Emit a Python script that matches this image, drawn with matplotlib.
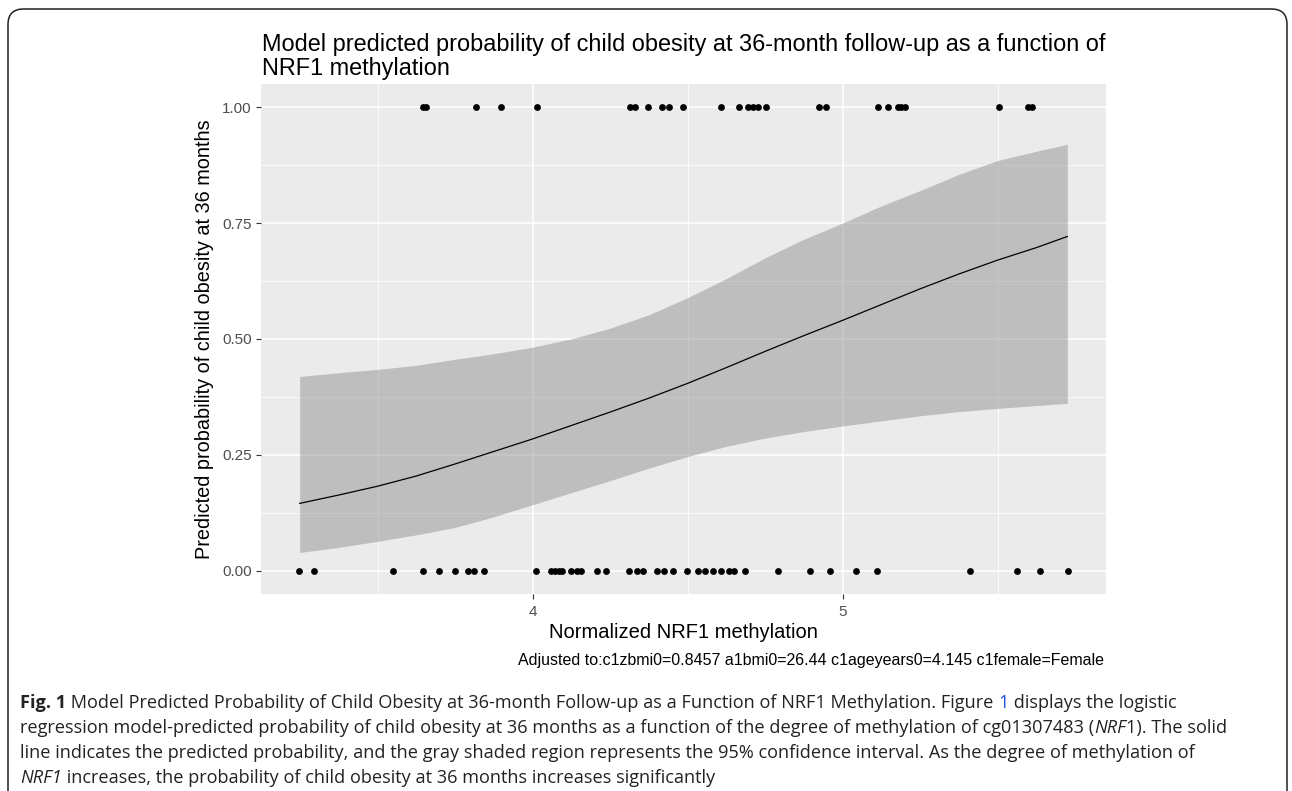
import matplotlib
matplotlib.use("Agg")
import matplotlib.pyplot as plt
from matplotlib.patches import FancyBboxPatch
from matplotlib.ticker import FixedLocator

# ----------------------------------
# data
# ----------------------------------
# observed children: not obese (0) / obese (1)
meth_obese0 = [3.248, 3.296, 3.549, 3.647, 3.698, 3.749, 3.792, 3.810, 3.845,
               4.012, 4.060, 4.073, 4.084, 4.095, 4.125, 4.143, 4.156, 4.209,
               4.238, 4.312, 4.337, 4.355, 4.403, 4.423, 4.452, 4.498, 4.533,
               4.555, 4.582, 4.608, 4.635, 4.649, 4.686, 4.792, 4.896, 4.961,
               5.045, 5.112, 5.411, 5.563, 5.638, 5.726]
meth_obese1 = [3.647, 3.657, 3.818, 3.898, 4.016, 4.313, 4.329, 4.372, 4.418,
               4.439, 4.484, 4.609, 4.667, 4.694, 4.710, 4.726, 4.754, 4.923,
               4.947, 5.113, 5.148, 5.178, 5.189, 5.202, 5.505, 5.598, 5.611]

# model prediction and 95% CI
curve_x = [3.249, 3.375, 3.500, 3.625, 3.750, 3.875, 4.000, 4.125, 4.250,
           4.375, 4.500, 4.625, 4.750, 4.875, 5.000, 5.125, 5.250, 5.375,
           5.500, 5.625, 5.725]
curve_fit = [0.145, 0.163, 0.182, 0.204, 0.230, 0.257, 0.284, 0.313, 0.342,
             0.372, 0.404, 0.438, 0.473, 0.507, 0.540, 0.574, 0.608, 0.640,
             0.670, 0.697, 0.721]
curve_lo = [0.039, 0.050, 0.063, 0.077, 0.093, 0.116, 0.142, 0.168, 0.194,
            0.221, 0.246, 0.268, 0.286, 0.300, 0.312, 0.323, 0.334, 0.343,
            0.350, 0.356, 0.361]
curve_hi = [0.419, 0.427, 0.434, 0.443, 0.456, 0.468, 0.482, 0.500, 0.523,
            0.552, 0.589, 0.630, 0.675, 0.715, 0.750, 0.787, 0.820, 0.855,
            0.885, 0.905, 0.920]

x_ticks = [4, 5]
x_minor = [3.5, 4.5, 5.5]
y_ticks = [0.0, 0.25, 0.5, 0.75, 1.0]
y_minor = [0.125, 0.375, 0.625, 0.875]
y_ticklabels = ["0.00", "0.25", "0.50", "0.75", "1.00"]

title_lines = ["Model predicted probability of child obesity at 36-month follow-up as a function of",
               "NRF1 methylation"]
x_label = "Normalized NRF1 methylation"
y_label = "Predicted probability of child obesity at 36 months"
adjust_note = "Adjusted to:c1zbmi0=0.8457 a1bmi0=26.44 c1ageyears0=4.145 c1female=Female"

W, H = 1292, 791
plt.rcParams['font.family'] = ['Liberation Sans', 'DejaVu Sans']


def fx(px):
    return px / W


def fy(py):
    return 1 - py / H


fig = plt.figure(figsize=(W / 100, H / 100), dpi=100)
fig.patch.set_facecolor("white")

# ----------------------------------
# panel
# ----------------------------------
p_left, p_right, p_top, p_bottom = 261, 1106, 84.1, 593.7
ax = fig.add_axes([fx(p_left), fy(p_bottom), (p_right - p_left) / W, (p_bottom - p_top) / H])
ax.set_facecolor("#EBEBEB")

ax.fill_between(curve_x, curve_lo, curve_hi, color="#808080", alpha=0.42, lw=0, zorder=2)
ax.plot(curve_x, curve_fit, color="black", lw=0.9, zorder=3)
ax.scatter(meth_obese0, [0] * len(meth_obese0), s=24, color="black", linewidths=0, zorder=4)
ax.scatter(meth_obese1, [1] * len(meth_obese1), s=24, color="black", linewidths=0, zorder=4)

ax.margins(x=0.05, y=0.05)
ax.set_xticks(x_ticks)
ax.set_xticklabels([str(t) for t in x_ticks])
ax.xaxis.set_minor_locator(FixedLocator(x_minor))
ax.set_yticks(y_ticks)
ax.set_yticklabels(y_ticklabels)
ax.yaxis.set_minor_locator(FixedLocator(y_minor))

ax.set_axisbelow(True)
ax.grid(which="major", color="white", lw=1.1)
ax.grid(which="minor", color="white", lw=0.55)
ax.tick_params(which="minor", length=0)
ax.tick_params(which="major", length=3.6, width=0.8, color="#333333",
               labelcolor="#4D4D4D", labelsize=11)
ax.tick_params(axis="x", pad=4.5)
ax.tick_params(axis="y", pad=3)
for s in ax.spines.values():
    s.set_visible(False)

# ----------------------------------
# chart texts
# ----------------------------------
fig.text(fx(262), fy(51), title_lines[0], fontsize=16.9, va="baseline", ha="left")
fig.text(fx(262), fy(75), title_lines[1], fontsize=16.9, va="baseline", ha="left")
fig.text(fx((p_left + p_right) / 2), fy(633), x_label, fontsize=14.5, ha="center", va="center")
fig.text(fx(205), fy((p_top + p_bottom) / 2), y_label, fontsize=14.3, rotation=90,
         ha="center", va="center")
fig.text(fx(p_right - 2), fy(661), adjust_note, fontsize=11.5, ha="right", va="center")

# ----------------------------------
# figure caption (mixed styles)
# ----------------------------------
cap_font = ["Open Sans", "DejaVu Sans"]
cap_size = 13.1
normal = dict(family=cap_font, fontsize=cap_size, color="#222222")
bold = dict(normal, weight="bold")
italic = dict(normal, style="italic")
blue = dict(normal, color="#1F4FD1")

caption = [
    [("Fig. 1", bold),
     (" Model Predicted Probability of Child Obesity at 36-month Follow-up as a Function of NRF1 Methylation. Figure ", normal),
     ("1", blue), (" displays the logistic", normal)],
    [("regression model-predicted probability of child obesity at 36 months as a function of the degree of methylation of cg01307483 (", normal),
     ("NRF", italic), ("1). The solid", normal)],
    [("line indicates the predicted probability, and the gray shaded region represents the 95% confidence interval. As the degree of methylation of", normal)],
    [("NRF1", italic), (" increases, the probability of child obesity at 36 months increases significantly", normal)],
]
cap_y = [708, 733, 758, 783]

renderer = fig.canvas.get_renderer()


def run_width(s, style):
    t = fig.text(0, 0, s + "|", **style)
    w1 = t.get_window_extent(renderer).width
    t.remove()
    t = fig.text(0, 0, "|", **style)
    w2 = t.get_window_extent(renderer).width
    t.remove()
    return w1 - w2


for runs, y in zip(caption, cap_y):
    x = 20
    for s, style in runs:
        fig.text(fx(x), fy(y), s, ha="left", va="baseline", **style)
        x += run_width(s, style)

# rounded frame around the figure (open at the bottom)
frame = FancyBboxPatch((fx(8), fy(830)), (1287 - 8) / W, (830 - 9) / H,
                       boxstyle="round,pad=0,rounding_size=0.012",
                       mutation_aspect=W / H, transform=fig.transFigure,
                       fill=False, ec="#222222", lw=1.1, clip_on=False)
fig.patches.append(frame)

fig.savefig("out.png", dpi=100)
